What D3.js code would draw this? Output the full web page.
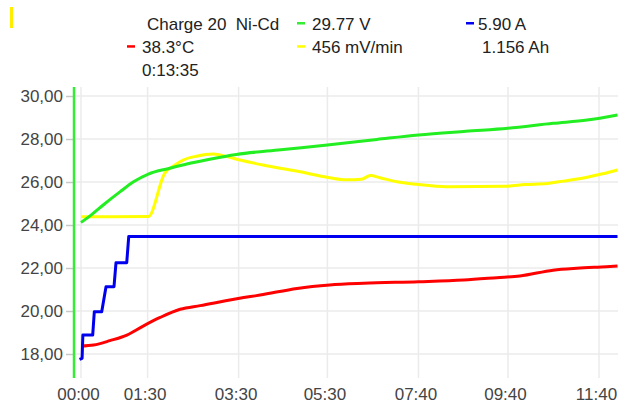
<!DOCTYPE html>
<html>
<head>
<meta charset="utf-8">
<script src="https://cdn.jsdelivr.net/npm/d3@7"></script>
<style>
  html, body { margin: 0; padding: 0; background: #fff; }
  svg { display: block; font-family: "Liberation Sans", Arial, sans-serif; }
  text { white-space: pre; }
</style>
</head>
<body>
<svg id="chart" width="618" height="407"></svg>
<script>
// [seconds, value]
const voltage = [
    [0, 24.12], [14, 24.47], [30, 24.93], [53, 25.55], [71, 26.01], [91, 26.37],
    [120, 26.64], [143, 26.84], [174, 27.06], [210, 27.28], [270, 27.5], [333, 27.72],
    [400, 27.98], [456, 28.19], [520, 28.36], [577, 28.5], [638, 28.73], [684, 28.88], [725, 29.12]
];
const slope = [
    [0, 24.38], [91, 24.39], [113, 26.4], [127, 26.79], [138, 27.02], [156, 27.2],
    [179, 27.3], [197, 27.18], [215, 27.02], [246, 26.79], [291, 26.51], [336, 26.2],
    [359, 26.1], [379, 26.13], [391, 26.3], [404, 26.2], [427, 26.01], [454, 25.89],
    [494, 25.78], [575, 25.8], [600, 25.88], [630, 25.93], [652, 26.04], [684, 26.22],
    [705, 26.38], [725, 26.56]
];
const current = [
    [-2, 17.75], [1.5, 17.8], [2.5, 18.88], [15.8, 18.88], [18, 19.97], [28, 19.97],
    [33.8, 21.13], [44.6, 21.13], [47.3, 22.25], [61.8, 22.25], [64.5, 23.46], [725, 23.46]
];
const temperature = [
    [0, 18.37], [17, 18.42], [39, 18.62], [62, 18.88], [84, 19.3], [107, 19.7],
    [134, 20.08], [161, 20.25], [229, 20.67], [242, 20.74], [292, 21.05], [336, 21.21],
    [382, 21.29], [456, 21.36], [517, 21.44], [562, 21.55], [593, 21.63], [638, 21.9],
    [670, 21.99], [710, 22.06], [725, 22.09]
];

const yTicks = [18, 20, 22, 24, 26, 28, 30];
const xTickTimes = [0, 90, 213, 333, 456, 577, 700];
const xTickLabels = ['00:00', '01:30', '03:30', '05:30', '07:40', '09:40', '11:40'];

const headerItems = [
    {text: 'Charge 20  Ni-Cd', x: 147, row: 0},
    {text: '29.77 V', x: 312, row: 0, dash: '#33ee33', dx: 297},
    {text: '5.90 A', x: 478, row: 0, dash: '#0000ee', dx: 466},
    {text: '38.3°C', x: 142, row: 1, dash: '#ff0000', dx: 127},
    {text: '456 mV/min', x: 312, row: 1, dash: '#ffff00', dx: 297},
    {text: '1.156 Ah', x: 482, row: 1},
    {text: '0:13:35', x: 142, row: 2}
];

const svg = d3.select('#chart');
const plotTop = 87;
const plotBottom = 378;
const axisX = 74;
const W = 618;

const x = d3.scaleLinear().domain([0, 700]).range([81, 599]);
const y = d3.scaleLinear().domain([18, 30]).range([354, 96]);

// header
svg.append('rect')
    .attr('x', 10).attr('y', 7).attr('width', 3).attr('height', 21)
    .attr('fill', '#ffee00');

const rowBase = [29.5, 52.7, 76];
const head = svg.append('g').attr('font-size', 17).attr('fill', '#222');
head.selectAll('text')
    .data(headerItems)
    .enter()
    .append('text')
    .attr('x', d => d.x)
    .attr('y', d => rowBase[d.row])
    .text(d => d.text);
head.selectAll('.dash')
    .data(headerItems.filter(d => d.dash))
    .enter()
    .append('rect')
    .attr('class', 'dash')
    .attr('x', d => d.dx)
    .attr('y', d => rowBase[d.row] - 7.5)
    .attr('width', 8)
    .attr('height', 2.5)
    .attr('fill', d => d.dash);

// grid
const grid = svg.append('g').attr('stroke', '#ebebeb').attr('stroke-width', 1.5);
grid.selectAll('.hg')
    .data(yTicks)
    .enter()
    .append('line')
    .attr('x1', axisX).attr('x2', W)
    .attr('y1', d => y(d)).attr('y2', d => y(d));
grid.selectAll('.vg')
    .data(xTickTimes)
    .enter()
    .append('line')
    .attr('x1', d => x(d)).attr('x2', d => x(d))
    .attr('y1', plotTop).attr('y2', plotBottom);

// y axis
const yAxis = svg.append('g')
    .attr('transform', `translate(${axisX},0)`)
    .call(d3.axisLeft(y)
        .tickValues(yTicks)
        .tickSize(8)
        .tickPadding(3)
        .tickFormat(d => d3.format('.2f')(d).replace('.', ',')));
yAxis.select('.domain').remove();
yAxis.selectAll('line').attr('stroke', '#c8c8c8').attr('stroke-width', 1.5);
yAxis.selectAll('text')
    .attr('font-size', 17)
    .attr('font-family', '"Liberation Sans", Arial, sans-serif')
    .attr('fill', '#444');

// x axis
const xAxis = svg.append('g')
    .attr('transform', `translate(0,${plotBottom})`)
    .call(d3.axisBottom(x)
        .tickValues(xTickTimes)
        .tickSize(0)
        .tickPadding(10)
        .tickFormat((d, i) => xTickLabels[i]));
xAxis.select('.domain').remove();
xAxis.selectAll('text')
    .attr('dx', -3)
    .attr('font-size', 17)
    .attr('font-family', '"Liberation Sans", Arial, sans-serif')
    .attr('fill', '#444');

// series
const smooth = d3.line()
    .curve(d3.curveMonotoneX)
    .x(d => x(d[0]))
    .y(d => y(d[1]));
const straight = d3.line()
    .x(d => x(d[0]))
    .y(d => y(d[1]));

const series = [
    {data: temperature, color: '#ff0000', line: smooth},
    {data: current, color: '#0000ee', line: straight},
    {data: slope, color: '#ffff00', line: smooth},
    {data: voltage, color: '#22ee22', line: smooth}
];

svg.append('g')
    .selectAll('path')
    .data(series)
    .enter()
    .append('path')
    .attr('d', d => d.line(d.data))
    .attr('fill', 'none')
    .attr('stroke', d => d.color)
    .attr('stroke-width', 3)
    .attr('stroke-linejoin', 'round');

// left axis line
svg.append('line')
    .attr('x1', axisX).attr('x2', axisX)
    .attr('y1', plotTop).attr('y2', plotBottom)
    .attr('stroke', '#33ee33')
    .attr('stroke-width', 2.5);
</script>
</body>
</html>
